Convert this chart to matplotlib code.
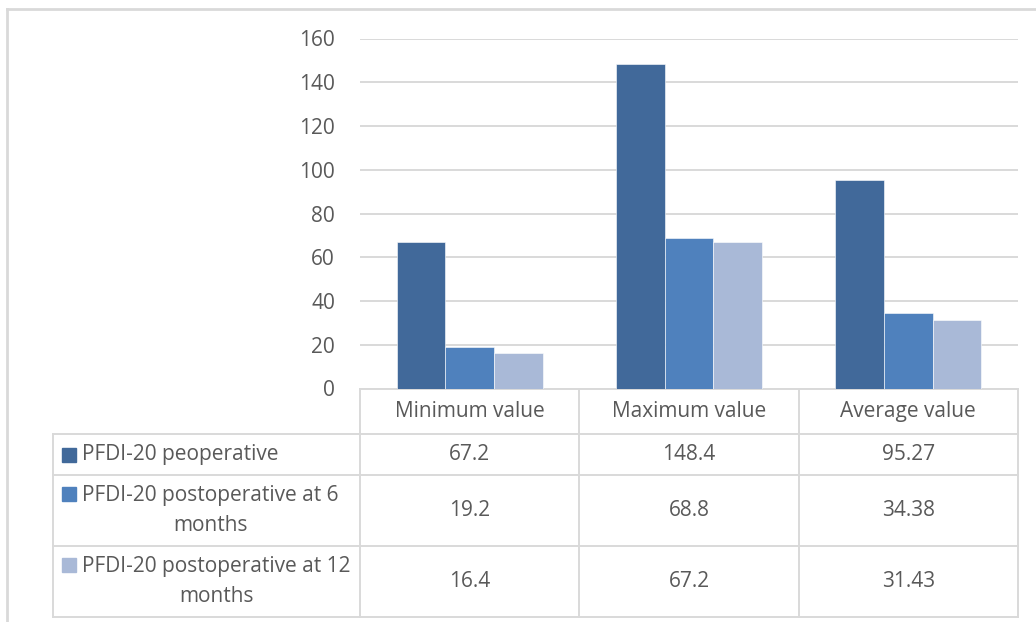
import matplotlib
matplotlib.use("Agg")
import matplotlib.pyplot as plt
from matplotlib import transforms
from matplotlib.patches import Rectangle
from matplotlib.lines import Line2D

categories = ["Minimum value", "Maximum value", "Average value"]
series_names = [
    "PFDI-20 peoperative",
    "PFDI-20 postoperative at 6\nmonths",
    "PFDI-20 postoperative at 12\nmonths",
]
preoperative = [67.2, 148.4, 95.27]
post_6_months = [19.2, 68.8, 34.38]
post_12_months = [16.4, 67.2, 31.43]
y_ticks = [0, 20, 40, 60, 80, 100, 120, 140, 160]

colors = ["#41699a", "#4f81bd", "#a9b9d7"]
grid_color = "#d9d9d9"
text_color = "#595959"
font = "Open Sans"
fsize = 15

W, H = 1036, 622
fig = plt.figure(figsize=(W / 100, H / 100), dpi=100)

# overlay in pixel units for frame and table
tab = fig.add_axes([0, 0, 1, 1])
tab.set_xlim(0, W)
tab.set_ylim(H, 0)
tab.axis("off")

ax = fig.add_axes([360 / W, 1 - 388.5 / H, (1018 - 360) / W, (388.5 - 38.5) / H])

series = [preoperative, post_6_months, post_12_months]
bar_w = 1 / 4.5
x = range(len(categories))
for i, vals in enumerate(series):
    offs = (i - 1) * bar_w
    ax.bar([c + offs for c in x], vals, width=bar_w, color=colors[i],
           edgecolor="white", linewidth=0.4, zorder=3)

ax.set_xlim(-0.5, len(categories) - 0.5)
ax.set_ylim(0, 160)
ax.set_yticks(y_ticks)
ax.set_xticks([])
ax.yaxis.grid(True, color=grid_color, linewidth=1.4)
ax.set_axisbelow(True)
ax.tick_params(axis="y", length=0, pad=18, labelsize=fsize, labelcolor=text_color)
for lab in ax.get_yticklabels():
    lab.set_fontfamily(font)
for s in ["top", "right", "left"]:
    ax.spines[s].set_visible(False)
ax.spines["bottom"].set_color(grid_color)
ax.spines["bottom"].set_linewidth(1.4)

# outer chart frame
tab.add_line(Line2D([7, 7], [9, H], color=grid_color, lw=2))
tab.add_line(Line2D([7, W], [9, 9], color=grid_color, lw=2))

# data table under the plot: columns follow the category axis
blend = transforms.blended_transform_factory(ax.transData, tab.transData)
row_edges = [389, 434, 475, 546, 617]
col_edges = [c - 0.5 for c in range(len(categories) + 1)]
left_x = 53
x_right_px = ax.transData.transform((col_edges[-1], 0))[0]

for xe in col_edges:
    tab.add_line(Line2D([xe, xe], [row_edges[0], row_edges[-1]], transform=blend,
                        color=grid_color, lw=1.4))
tab.add_line(Line2D([left_x, left_x], [row_edges[1], row_edges[-1]],
                    color=grid_color, lw=1.4))
for ye in row_edges[1:]:
    tab.add_line(Line2D([left_x, x_right_px], [ye, ye], color=grid_color, lw=1.4))

hdr_y = (row_edges[0] + row_edges[1]) / 2
for c, name in enumerate(categories):
    tab.text(c, hdr_y, name, transform=blend, ha="center", va="center",
             fontsize=fsize, color=text_color, fontfamily=font)

for r, (name, vals) in enumerate(zip(series_names, series)):
    yc = (row_edges[r + 1] + row_edges[r + 2]) / 2
    for c, v in enumerate(vals):
        tab.text(c, yc, f"{v:g}", transform=blend, ha="center", va="center",
                 fontsize=fsize, color=text_color, fontfamily=font)
    n_lines = name.count("\n") + 1
    tab.text(82, yc, name, ha="left", va="center", multialignment="center",
             fontsize=fsize, color=text_color, fontfamily=font, linespacing=1.55)
    key_y = yc - (n_lines - 1) * 16.5
    tab.add_patch(Rectangle((62, key_y - 7), 14, 14, color=colors[r]))

fig.savefig("out.png", dpi=100, facecolor="white")
